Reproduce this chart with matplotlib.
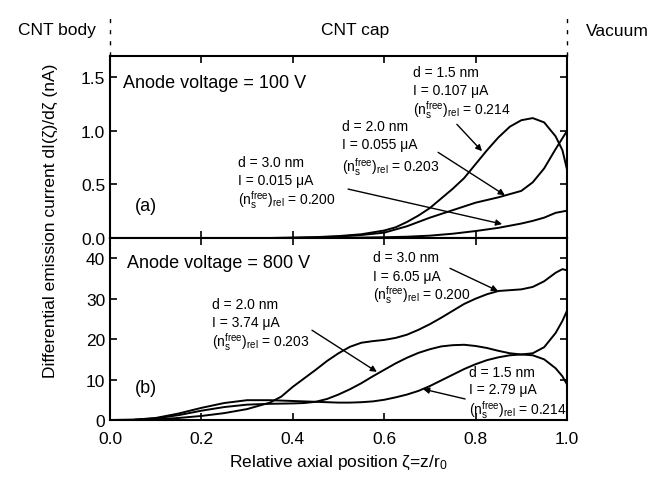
import matplotlib
matplotlib.use("Agg")
import matplotlib.pyplot as plt

plt.rcParams['font.family'] = ['Liberation Sans', 'DejaVu Sans']
plt.rcParams['mathtext.fontset'] = 'custom'
plt.rcParams['mathtext.rm'] = 'Liberation Sans'
plt.rcParams['mathtext.it'] = 'Liberation Sans:italic'

# ---- data: panel (a), anode voltage 100 V ----
zeta_a_15 = [0.0, 0.35, 0.4, 0.45, 0.5, 0.55, 0.6, 0.625, 0.65, 0.675, 0.7, 0.725, 0.75, 0.775,
             0.8, 0.825, 0.85, 0.875, 0.9, 0.925, 0.95, 0.975, 0.99, 1.0]
val_a_15 = [0.0, 0.0, 0.003, 0.008, 0.018, 0.035, 0.07, 0.10, 0.15, 0.21, 0.28, 0.37, 0.46, 0.56,
            0.69, 0.82, 0.94, 1.04, 1.10, 1.12, 1.08, 0.95, 0.82, 0.64]
zeta_a_20 = [0.0, 0.35, 0.4, 0.45, 0.5, 0.55, 0.6, 0.65, 0.7, 0.75, 0.8, 0.85, 0.9, 0.925, 0.95, 0.975, 1.0]
val_a_20 = [0.0, 0.0, 0.002, 0.006, 0.013, 0.028, 0.05, 0.11, 0.19, 0.26, 0.33, 0.38, 0.44, 0.52, 0.65, 0.83, 1.0]
zeta_a_30 = [0.0, 0.45, 0.5, 0.55, 0.6, 0.65, 0.7, 0.75, 0.8, 0.85, 0.9, 0.925, 0.95, 0.975, 1.0]
val_a_30 = [0.0, 0.0, 0.002, 0.004, 0.007, 0.012, 0.022, 0.04, 0.065, 0.095, 0.135, 0.16, 0.19, 0.235, 0.255]

# ---- data: panel (b), anode voltage 800 V ----
zeta_b = [0.0, 0.05, 0.1, 0.15, 0.2, 0.25, 0.3, 0.35, 0.375, 0.4, 0.425, 0.45, 0.475, 0.5,
          0.525, 0.55, 0.575, 0.6, 0.625, 0.65, 0.675, 0.7, 0.725, 0.75, 0.775, 0.8,
          0.825, 0.85, 0.875, 0.9, 0.925, 0.95, 0.975, 0.99, 1.0]
val_b_15 = [0.0, 0.05, 0.5, 1.6, 3.0, 4.2, 4.9, 4.9, 4.8, 4.7, 4.6, 4.5, 4.4, 4.3,
            4.3, 4.4, 4.6, 5.0, 5.6, 6.3, 7.2, 8.4, 9.8, 11.2, 12.6, 13.8,
            14.8, 15.5, 16.0, 16.2, 16.0, 15.0, 12.8, 10.8, 8.8]
val_b_20 = [0.0, 0.05, 0.4, 1.2, 2.3, 3.2, 3.8, 4.0, 4.05, 4.1, 4.2, 4.5, 5.2, 6.3,
            7.6, 9.1, 10.8, 12.4, 14.0, 15.4, 16.6, 17.5, 18.2, 18.5, 18.6, 18.3,
            17.8, 17.1, 16.5, 16.2, 16.5, 18.0, 21.5, 24.5, 27.0]
val_b_30 = [0.0, 0.02, 0.15, 0.5, 1.0, 1.7, 2.7, 4.3, 5.8, 8.2, 10.3, 12.4, 14.6, 16.5,
            18.1, 19.1, 19.5, 19.8, 20.3, 21.1, 22.3, 23.7, 25.3, 27.0, 28.7, 30.0,
            31.1, 31.9, 32.1, 32.3, 32.9, 34.3, 36.4, 37.3, 37.0]

xticks = [0.0, 0.2, 0.4, 0.6, 0.8, 1.0]
yticks_a = [0.0, 0.5, 1.0, 1.5]
yticks_b = [0, 10, 20, 30, 40]

fig = plt.figure(figsize=(6.67, 4.85), dpi=100)
L, W = 110 / 667, 457 / 667
ax_a = fig.add_axes([L, 1 - 239 / 485, W, 182 / 485])
ax_b = fig.add_axes([L, 1 - 421 / 485, W, 182 / 485])

lw = 1.4
for z, v in ((zeta_a_15, val_a_15), (zeta_a_20, val_a_20), (zeta_a_30, val_a_30)):
    ax_a.plot(z, v, color='black', lw=lw, solid_joinstyle='round')
for v in (val_b_15, val_b_20, val_b_30):
    ax_b.plot(zeta_b, v, color='black', lw=lw, solid_joinstyle='round')

for ax in (ax_a, ax_b):
    ax.set_xlim(0, 1)
    ax.set_xticks(xticks)
    ax.tick_params(direction='in', top=True, right=True, length=5, width=1.2, labelsize=12.5)
    for s in ax.spines.values():
        s.set_linewidth(1.5)
ax_a.set_ylim(0, 1.7)
ax_a.set_yticks(yticks_a)
ax_a.set_yticklabels(['%.1f' % v for v in yticks_a])
ax_a.tick_params(labelbottom=False)
ax_b.set_ylim(0, 45)
ax_b.set_yticks(yticks_b)
ax_b.set_xticklabels(['%.1f' % v for v in xticks])
ax_b.tick_params(axis='x', pad=8)
ax_b.set_xlabel(r'Relative axial position ζ=z/r$_\mathregular{0}$', fontsize=12.5, labelpad=5)

fig.text(0.075, 0.545, 'Differential emission current dI(ζ)/dζ (nA)', rotation=90,
         ha='center', va='center', fontsize=12.5)

# region labels and dashed boundaries
for xv in (0.0, 1.0):
    ax_a.plot([xv, xv], [1.0, 1.24], transform=ax_a.get_xaxis_transform(), clip_on=False,
              color='black', lw=1.0, ls=(0, (3, 5)))
fig.text(57 / 667, 1 - 31 / 485, 'CNT body', ha='center', va='center', fontsize=12.5)
fig.text(355 / 667, 1 - 31 / 485, 'CNT cap', ha='center', va='center', fontsize=12.5)
fig.text(617 / 667, 1 - 31 / 485, 'Vacuum', ha='center', va='center', fontsize=12.5)

fs_a = 10
nrel = r'$(\mathregular{n}_\mathregular{s}^{\mathregular{free}})_{\mathregular{rel}}$'
def block(ax, x, ys, d, cur, rel):
    ax.text(x, ys[0], 'd = %s nm' % d, fontsize=fs_a, va='center')
    ax.text(x, ys[1], 'I = %s μA' % cur, fontsize=fs_a, va='center')
    ax.text(x, ys[2], nrel + ' = %s' % rel, fontsize=fs_a, va='center')

def arrow(ax, start, end):
    ax.annotate('', xy=end, xytext=start,
                arrowprops=dict(arrowstyle='-|>', color='black', lw=1.0,
                                mutation_scale=9, shrinkA=0, shrinkB=0))

# panel (a)
ax_a.text(0.028, 1.45, 'Anode voltage = 100 V', fontsize=13, va='center')
ax_a.text(0.055, 0.30, '(a)', fontsize=13, va='center')
block(ax_a, 0.663, [1.547, 1.379, 1.202], '1.5', '0.107', '0.214')
block(ax_a, 0.508, [1.044, 0.876, 0.671], '2.0', '0.055', '0.203')
block(ax_a, 0.28, [0.708, 0.541, 0.363], '3.0', '0.015', '0.200')
arrow(ax_a, (0.759, 1.062), (0.814, 0.811))
arrow(ax_a, (0.718, 0.80), (0.864, 0.40))
arrow(ax_a, (0.521, 0.457), (0.858, 0.13))

# panel (b)
ax_b.text(0.037, 39.0, 'Anode voltage = 800 V', fontsize=13, va='center')
ax_b.text(0.055, 8.1, '(b)', fontsize=13, va='center')
block(ax_b, 0.223, [28.6, 24.2, 19.5], '2.0', '3.74', '0.203')
block(ax_b, 0.575, [40.2, 35.6, 31.1], '3.0', '6.05', '0.200')
block(ax_b, 0.785, [11.9, 7.7, 2.7], '1.5', '2.79', '0.214')
arrow(ax_b, (0.442, 22.2), (0.584, 11.9))
arrow(ax_b, (0.744, 37.5), (0.849, 31.9))
arrow(ax_b, (0.777, 5.2), (0.685, 7.65))

fig.savefig('out.png', dpi=100)
